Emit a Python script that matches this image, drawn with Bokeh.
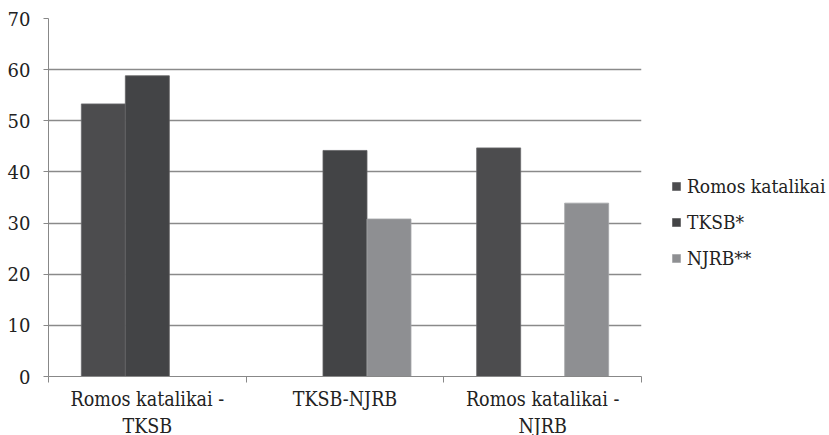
from bokeh.plotting import figure
from bokeh.models import ColumnDataSource, FixedTicker, Legend, LegendItem, Range1d
from bokeh.transform import dodge
from bokeh.embed import file_html
from bokeh.resources import INLINE

categories = ["Romos katalikai -\nTKSB", "TKSB-NJRB", "Romos katalikai -\nNJRB"]
series_names = ["Romos katalikai", "TKSB*", "NJRB**"]
nan = float("nan")
romos = [53.3, nan, 44.7]
tksb = [58.8, 44.2, nan]
njrb = [nan, 30.8, 33.9]
y_ticks = [0, 10, 20, 30, 40, 50, 60, 70]

xpos = [i + 0.5 for i in range(len(categories))]
src = ColumnDataSource(data=dict(x=xpos, romos=romos, tksb=tksb, njrb=njrb))

p = figure(frame_width=593, frame_height=358, output_backend="svg", toolbar_location=None,
           x_range=Range1d(0, 3), y_range=Range1d(0, 70),
           min_border_left=48, min_border_right=0, min_border_top=18, min_border_bottom=59)
p.outline_line_color = None
p.background_fill_color = "white"

bw = 0.2226
colors = ["#4c4c4e", "#434446", "#8e8f92"]
r1 = p.vbar(x=dodge("x", -bw, range=p.x_range), top="romos", width=bw, source=src,
            fill_color=colors[0], line_color="#6a6a6c", line_width=0.8)
r2 = p.vbar(x=dodge("x", 0, range=p.x_range), top="tksb", width=bw, source=src,
            fill_color=colors[1], line_color="#636365", line_width=0.8)
r3 = p.vbar(x=dodge("x", bw, range=p.x_range), top="njrb", width=bw, source=src,
            fill_color=colors[2], line_color="#a5a6a8", line_width=0.8)

# axes
p.xaxis.ticker = FixedTicker(ticks=xpos, minor_ticks=[0, 1, 2, 3])
p.xaxis.major_label_overrides = {x: c for x, c in zip(xpos, categories)}
p.xaxis.major_tick_line_color = None
p.xaxis.major_tick_out = 0
p.xaxis.major_tick_in = 0
p.xaxis.minor_tick_out = 6
p.xaxis.minor_tick_in = 0
p.xaxis.minor_tick_line_color = "#888888"
p.xaxis.axis_line_color = "#888888"
p.xaxis.major_label_standoff = 5
p.xaxis.major_label_text_font = "DejaVu Serif Condensed"
p.xaxis.major_label_text_font_size = "19.5px"
p.xaxis.major_label_text_color = "#222222"
p.xaxis.major_label_text_align = "center"

p.yaxis.ticker = FixedTicker(ticks=y_ticks, minor_ticks=[])
p.yaxis.major_tick_out = 5
p.yaxis.major_tick_in = 0
p.yaxis.major_tick_line_color = "#888888"
p.yaxis.axis_line_color = "#888888"
p.yaxis.major_label_standoff = 13
p.yaxis.major_label_text_font = "DejaVu Serif"
p.yaxis.major_label_text_font_size = "18px"
p.yaxis.major_label_text_color = "#222222"

p.xgrid.grid_line_color = None
p.ygrid.ticker = FixedTicker(ticks=y_ticks)
p.ygrid.grid_line_color = "#8a8a8a"
p.ygrid.grid_line_width = 1.3

legend = Legend(items=[LegendItem(label=series_names[0], renderers=[r1]),
                       LegendItem(label=series_names[1], renderers=[r2]),
                       LegendItem(label=series_names[2], renderers=[r3])],
                location=(30, 107), glyph_width=10, glyph_height=10,
                label_standoff=6, spacing=14, padding=0, margin=0,
                label_height=20, border_line_color=None, background_fill_alpha=0,
                label_text_font="DejaVu Serif Condensed", label_text_font_size="19px",
                label_text_color="#222222")
p.add_layout(legend, "right")
p.min_border_right = 188

open("out.html", "w").write(file_html(p, INLINE))
